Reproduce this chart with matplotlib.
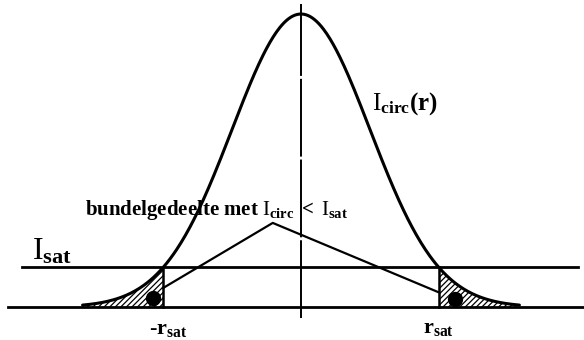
import matplotlib.pyplot as plt
import numpy as np

# mathtext: regulier Times-achtig voor I, vet voor de rest
plt.rcParams['mathtext.fontset'] = 'custom'
plt.rcParams['mathtext.rm'] = 'Liberation Serif'
plt.rcParams['mathtext.bf'] = 'Liberation Serif:bold'
plt.rcParams['mathtext.it'] = 'Liberation Serif:italic'
plt.rcParams['hatch.linewidth'] = 0.9

# ---- schematische bundelprofiel-parameters ----
piek = 1.0        # I_circ(0)
sigma = 1.0       # breedte van het profiel
r_sat = 2.0       # straal waar I_circ = I_sat
r_staart = 3.17   # tot hier loopt de getekende curve
r_lijn = [-4.25, 4.11]    # nullijn
r_isat = [-4.05, 4.02]    # I_sat-lijn
as_y = [-0.0375, 1.035]   # verticale as

# verbindingslijnen van het label naar de gearceerde gebieden
label_top = (-0.41, 0.287)
links_eind = (-2.0, 0.065)
rechts_eind = (1.99, 0.051)
punten_r = [-2.15, 2.235]
punten_I = [0.031, 0.027]


def profiel(r):
    return piek * np.exp(-r**2 / (2 * sigma**2))


I_sat = profiel(r_sat)

fig = plt.figure(figsize=(5.84, 3.40), dpi=100)
ax = fig.add_axes([0, 0, 1, 1])
ax.set_xlim(-301 / 68.9, 283 / 68.9)
ax.set_ylim(-0.1126, 1.0478)
ax.axis('off')

r = np.linspace(-r_staart, r_staart, 400)
ax.plot(r, profiel(r), color='black', lw=2.2, solid_capstyle='round')

ax.plot(r_lijn, [0, 0], color='black', lw=2.0)
ax.plot(r_isat, [I_sat, I_sat], color='black', lw=2.0)
ax.plot([0, 0], as_y, color='black', lw=1.4, dashes=(40, 1.5))

# verticale lijnen bij +/- r_sat
for rs in (-r_sat, r_sat):
    ax.plot([rs, rs], [0, I_sat], color='black', lw=1.8)

# gearceerde staarten
for lo, hi in ((-r_staart, -r_sat), (r_sat, r_staart)):
    rr = np.linspace(lo, hi, 100)
    ax.fill_between(rr, 0, profiel(rr), facecolor='none', edgecolor='black',
                    hatch='//////', lw=0)

ax.plot([links_eind[0], label_top[0], rechts_eind[0]],
        [links_eind[1], label_top[1], rechts_eind[1]], color='black', lw=1.6)
ax.plot(punten_r, punten_I, 'o', color='black', ms=10)

# teksten
ax.text(1.03, 0.696, r'$\mathrm{I}_{\mathbf{circ}}\mathbf{(r)}$', fontsize=18,
        ha='left', va='center')
ax.text(-3.13, 0.33,
        r'$\mathbf{bundelgedeelte\ met\ }\mathrm{I}_{\mathbf{circ}}\ \mathbf{<}\ \mathrm{I}_{\mathbf{sat}}$',
        fontsize=15, ha='left', va='center')
ax.text(-3.9, 0.19, r'$\mathrm{I}_{\mathbf{sat}}$', fontsize=23,
        ha='left', va='center')
ax.text(-2.2, -0.075, r'-$\mathbf{r}_{\mathbf{sat}}$', fontsize=16,
        family='Liberation Serif', weight='bold', ha='left', va='center')
ax.text(1.77, -0.07, r'$\mathbf{r}_{\mathbf{sat}}$', fontsize=16,
        ha='left', va='center')

fig.savefig('out.png', dpi=100)
